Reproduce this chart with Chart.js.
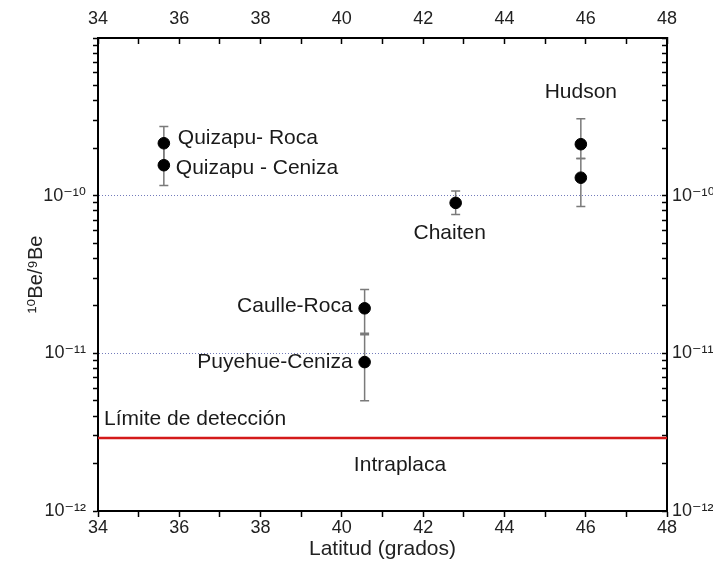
<!DOCTYPE html>
<html>
<head>
<meta charset="utf-8">
<script src="https://cdn.jsdelivr.net/npm/chart.js@4/dist/chart.umd.min.js"></script>
<style>
    body { margin: 0; background: #fff; }
    #contenedor { width: 713px; height: 568px; position: relative; }
</style>
</head>
<body>
<div id="contenedor"><canvas id="grafico"></canvas></div>
<script>
// datos
const volcanes = ["Quizapu- Roca", "Quizapu - Ceniza", "Hudson", "Hudson", "Chaiten", "Caulle-Roca", "Puyehue-Ceniza"];
const latitud = [35.62, 35.62, 45.88, 45.88, 42.80, 40.56, 40.56];
const razonBe = [2.15e-10, 1.56e-10, 2.12e-10, 1.30e-10, 0.90e-10, 1.93e-11, 0.88e-11];
const errorSup = [2.75e-10, 2.10e-10, 3.07e-10, 1.72e-10, 1.07e-10, 2.54e-11, 1.34e-11];
const errorInf = [1.65e-10, 1.16e-10, 1.72e-10, 0.855e-10, 0.76e-10, 1.31e-11, 0.50e-11];
const limiteDeteccion = 2.9e-12;
const ticksLatitud = [34, 36, 38, 40, 42, 44, 46, 48];
const decadas = [-12, -11, -10, -9];

const latMin = 34, latMax = 48;
const razonMin = 1e-12, razonMax = 1e-9;

const fuente = "'Liberation Sans', Arial, 'DejaVu Sans', sans-serif";
const supers = { "-": "⁻", "0": "⁰", "1": "¹", "2": "²", "3": "³", "4": "⁴", "5": "⁵", "6": "⁶", "7": "⁷", "8": "⁸", "9": "⁹" };

function esDecada(v) {
    const l = Math.log10(v);
    return Math.abs(l - Math.round(l)) < 1e-6;
}

function potencia(v) {
    const e = String(Math.round(Math.log10(v)));
    return "10" + e.split("").map(c => supers[c]).join("");
}

// marcas del eje log: 1..9 por decada
function marcasLog(scale) {
    let marcas = [];
    for (let i = 0; i < decadas.length - 1; i++) {
        for (let m = 1; m <= 9; m++) {
            marcas.push({ value: m * Math.pow(10, decadas[i]) });
        }
    }
    marcas.push({ value: Math.pow(10, decadas[decadas.length - 1]) });
    scale.ticks = marcas;
}

function etiquetaY(v) {
    if (esDecada(v) && v < razonMax * 0.99) return potencia(v);
    return "";
}

function etiquetaX(v) {
    return ticksLatitud.includes(v) ? String(v) : "";
}

// barras de error
const pluginErrores = {
    id: "errores",
    beforeDatasetsDraw(chart) {
        const ctx = chart.ctx;
        const x = chart.scales.x, y = chart.scales.y;
        ctx.save();
        ctx.strokeStyle = "#7a7a7a";
        ctx.lineWidth = 1.5;
        for (let i = 0; i < latitud.length; i++) {
            const px = x.getPixelForValue(latitud[i]);
            const y1 = y.getPixelForValue(errorSup[i]);
            const y2 = y.getPixelForValue(errorInf[i]);
            ctx.beginPath();
            ctx.moveTo(px, y1);
            ctx.lineTo(px, y2);
            ctx.moveTo(px - 4.5, y1);
            ctx.lineTo(px + 4.5, y1);
            ctx.moveTo(px - 4.5, y2);
            ctx.lineTo(px + 4.5, y2);
            ctx.stroke();
        }
        ctx.restore();
    }
};

// textos dentro del grafico
const pluginTextos = {
    id: "textos",
    afterDatasetsDraw(chart) {
        const ctx = chart.ctx;
        const x = chart.scales.x, y = chart.scales.y;
        const enPunto = (i, dx, dy) => [x.getPixelForValue(latitud[i]) + dx, y.getPixelForValue(razonBe[i]) + dy];
        const textos = [
            { t: volcanes[0], p: enPunto(0, 14, -5), a: "left" },
            { t: volcanes[1], p: enPunto(1, 12, 3), a: "left" },
            { t: volcanes[2], p: enPunto(2, 0, -52), a: "center" },
            { t: volcanes[4], p: enPunto(4, -6, 30), a: "center" },
            { t: volcanes[5], p: enPunto(5, -12, -2), a: "right" },
            { t: volcanes[6], p: enPunto(6, -12, 0), a: "right" },
            { t: "Límite de detección", p: [x.getPixelForValue(latMin) + 6, y.getPixelForValue(limiteDeteccion) - 19], a: "left" },
            { t: "Intraplaca", p: [x.getPixelForValue(41.43), y.getPixelForValue(limiteDeteccion) + 27], a: "center" },
        ];
        ctx.save();
        ctx.fillStyle = "#1a1a1a";
        ctx.font = "21px " + fuente;
        ctx.textBaseline = "middle";
        textos.forEach(e => {
            ctx.textAlign = e.a;
            ctx.fillText(e.t, e.p[0], e.p[1]);
        });
        ctx.restore();
    }
};

const puntos = latitud.map((lat, i) => ({ x: lat, y: razonBe[i] }));

const ejeX = {
    type: "linear",
    min: latMin,
    max: latMax,
    border: { color: "#000", width: 2 },
    grid: { drawOnChartArea: false, tickColor: "#000", tickWidth: 1.5, tickLength: 6 },
    ticks: {
        stepSize: 1, autoSkip: false, maxRotation: 0, padding: 0,
        color: "#222", font: { family: fuente, size: 18 },
        callback: etiquetaX,
    },
};

const ejeY = {
    type: "logarithmic",
    min: razonMin,
    max: razonMax,
    afterBuildTicks: marcasLog,
    border: { color: "#000", width: 2, dash: [1, 2] },
    grid: {
        color: c => (c.tick && esDecada(c.tick.value) && c.tick.value > razonMin * 1.01 && c.tick.value < razonMax * 0.99) ? "rgba(90,100,175,0.85)" : "rgba(0,0,0,0)",
        lineWidth: 1,
        tickColor: "#000", tickWidth: 1.5, tickLength: 5, tickBorderDash: [],
    },
    ticks: {
        autoSkip: false, padding: 7,
        color: "#222", font: { family: fuente, size: 18 },
        callback: etiquetaY,
    },
};

new Chart(document.getElementById("grafico"), {
    data: {
        datasets: [
            {
                type: "scatter",
                label: "Be",
                data: puntos,
                backgroundColor: "#000",
                borderColor: "#000",
                pointRadius: 5.8,
                pointHoverRadius: 5.8,
            },
            {
                type: "line",
                label: "Límite de detección",
                data: [{ x: latMin, y: limiteDeteccion }, { x: latMax, y: limiteDeteccion }],
                borderColor: "#d41a1a",
                borderWidth: 2.5,
                pointRadius: 0,
            },
        ],
    },
    options: {
        responsive: true,
        maintainAspectRatio: false,
        animation: false,
        layout: { padding: 0 },
        plugins: { legend: { display: false }, tooltip: { enabled: false } },
        scales: {
            x: Object.assign({}, ejeX, {
                position: "bottom",
                title: { display: true, text: "Latitud (grados)", color: "#222", font: { family: fuente, size: 21 }, padding: { top: 0, bottom: 6 } },
                afterFit: s => { s.height = 57; },
            }),
            x2: Object.assign({}, ejeX, {
                position: "top",
                grid: { drawOnChartArea: false, tickColor: "#000", tickWidth: 1.5, tickLength: -6 },
                ticks: Object.assign({}, ejeX.ticks, { padding: 14 }),
                afterFit: s => { s.height = 38; },
            }),
            y: Object.assign({}, ejeY, {
                position: "left",
                title: { display: true, text: "¹⁰Be/⁹Be", color: "#222", font: { family: fuente, size: 20 }, padding: { top: 24, bottom: 0 } },
                afterFit: s => { s.width = 98; },
            }),
            y2: Object.assign({}, ejeY, {
                position: "right",
                grid: { drawOnChartArea: false, tickColor: "#000", tickWidth: 1.5, tickLength: -5 },
                ticks: Object.assign({}, ejeY.ticks, { padding: 10 }),
                afterFit: s => { s.width = 46; },
            }),
        },
    },
    plugins: [pluginErrores, pluginTextos],
});
</script>
</body>
</html>
